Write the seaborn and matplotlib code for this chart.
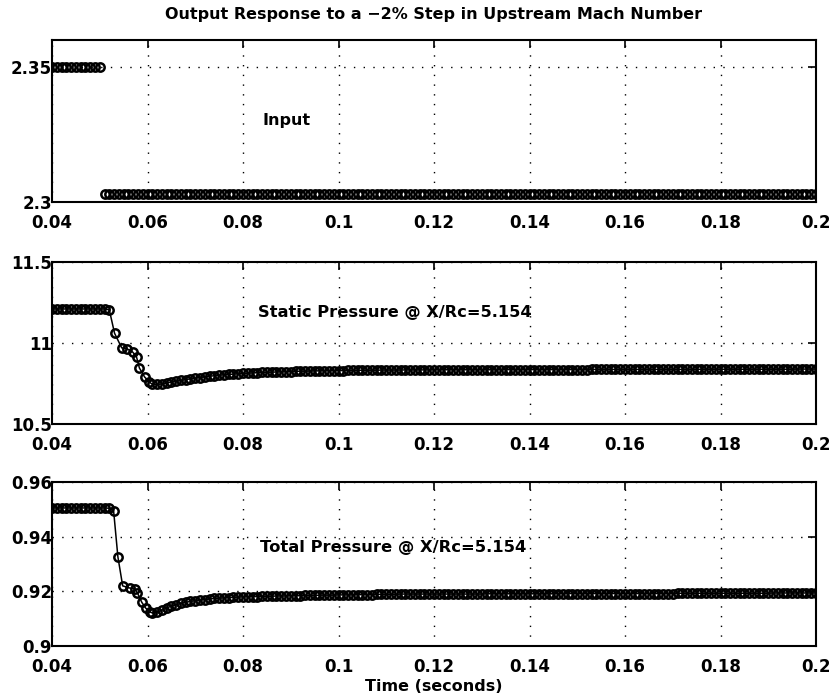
import numpy as np
import pandas as pd
import matplotlib
matplotlib.use("Agg")
import matplotlib.pyplot as plt
import seaborn as sns

sns.set_theme(style="white")
plt.rcParams["font.family"] = ["DejaVu Sans"]
plt.rcParams["text.color"] = "black"
plt.rcParams["axes.labelcolor"] = "black"

# ---------------- data ----------------
# upstream Mach number input (sampled every 1 ms)
t_input = np.round(np.arange(0.040, 0.2005, 0.001), 3)
mach_before = [2.35] * 11          # 0.040 .. 0.050
mach_after = [2.303] * 150         # 0.051 .. 0.200

# static pressure, pre-step plateau and transient (solver output points)
t_static_head = [0.040, 0.041, 0.042, 0.043, 0.044, 0.045, 0.046, 0.047, 0.048,
                 0.049, 0.050, 0.051, 0.052,
                 0.0531, 0.0546, 0.0558, 0.0569, 0.0577, 0.0583, 0.0594, 0.0604]
p_static_head = [11.21, 11.21, 11.21, 11.21, 11.21, 11.21, 11.21, 11.21, 11.21,
                 11.21, 11.21, 11.21, 11.205,
                 11.06, 10.97, 10.963, 10.944, 10.914, 10.846, 10.79, 10.759]

# total pressure, pre-step plateau and transient
t_total_head = [0.040, 0.041, 0.042, 0.043, 0.044, 0.045, 0.046, 0.047, 0.048,
                0.049, 0.050, 0.051, 0.052,
                0.0529, 0.0538, 0.0548, 0.0563, 0.0573, 0.0579, 0.0588, 0.0596, 0.0606]
p_total_head = [0.9505, 0.9505, 0.9505, 0.9505, 0.9505, 0.9505, 0.9505, 0.9505, 0.9505,
                0.9505, 0.9505, 0.9505, 0.9504,
                0.9495, 0.9326, 0.922, 0.9212, 0.9209, 0.9194, 0.916, 0.9139, 0.9124]

# recovery phase, 1 ms samples from 0.061 s to 0.200 s
t_tail = np.round(np.arange(0.061, 0.2005, 0.001), 3)

p_static_tail = [
    10.745, 10.744, 10.747, 10.753, 10.759, 10.764, 10.769, 10.774, 10.779, 10.783,
    10.787, 10.791, 10.795, 10.798, 10.801, 10.804, 10.806, 10.808, 10.810, 10.812,
    10.814, 10.815, 10.817, 10.818, 10.819, 10.820, 10.821, 10.822, 10.823, 10.824,
    10.825, 10.826, 10.826, 10.827, 10.828, 10.828, 10.829, 10.829, 10.830, 10.830,
    10.830, 10.831, 10.831, 10.831, 10.832, 10.832, 10.832, 10.832, 10.833, 10.833,
    10.833, 10.833, 10.833, 10.834, 10.834, 10.834, 10.834, 10.834, 10.834, 10.835,
    10.835, 10.835, 10.835, 10.835, 10.835, 10.835, 10.835, 10.835, 10.835, 10.835,
    10.835, 10.835, 10.835, 10.836, 10.836, 10.836, 10.836, 10.836, 10.836, 10.836,
    10.836, 10.836, 10.836, 10.836, 10.836, 10.836, 10.836, 10.836, 10.836, 10.836,
    10.836, 10.836, 10.837, 10.837, 10.837, 10.837, 10.837, 10.837, 10.837, 10.837,
    10.837, 10.837, 10.837, 10.837, 10.837, 10.837, 10.837, 10.837, 10.837, 10.837,
    10.837, 10.837, 10.837, 10.837, 10.837, 10.838, 10.838, 10.838, 10.838, 10.838,
    10.838, 10.838, 10.838, 10.838, 10.838, 10.838, 10.838, 10.838, 10.838, 10.838,
    10.838, 10.838, 10.838, 10.838, 10.838, 10.839, 10.839, 10.839, 10.839, 10.839,
]

p_total_tail = [
    0.9121, 0.9124, 0.9131, 0.9139, 0.9146, 0.9151, 0.9156, 0.9160, 0.9163, 0.9166,
    0.9168, 0.9170, 0.9172, 0.9174, 0.9175, 0.9176, 0.9177, 0.9178, 0.9179, 0.9180,
    0.9180, 0.9181, 0.9181, 0.9182, 0.9182, 0.9182, 0.9183, 0.9183, 0.9183, 0.9184,
    0.9184, 0.9184, 0.9185, 0.9185, 0.9185, 0.9186, 0.9186, 0.9186, 0.9186, 0.9187,
    0.9187, 0.9187, 0.9187, 0.9188, 0.9188, 0.9188, 0.9188, 0.9189, 0.9189, 0.9189,
    0.9189, 0.9189, 0.9190, 0.9190, 0.9190, 0.9190, 0.9190, 0.9190, 0.9190, 0.9190,
    0.9190, 0.9190, 0.9190, 0.9190, 0.9190, 0.9190, 0.9190, 0.9190, 0.9190, 0.9190,
    0.9191, 0.9191, 0.9191, 0.9191, 0.9191, 0.9191, 0.9191, 0.9191, 0.9191, 0.9191,
    0.9191, 0.9191, 0.9191, 0.9191, 0.9191, 0.9192, 0.9192, 0.9192, 0.9192, 0.9192,
    0.9192, 0.9192, 0.9192, 0.9192, 0.9192, 0.9192, 0.9192, 0.9192, 0.9192, 0.9192,
    0.9192, 0.9192, 0.9192, 0.9192, 0.9192, 0.9192, 0.9192, 0.9192, 0.9192, 0.9192,
    0.9193, 0.9193, 0.9193, 0.9193, 0.9193, 0.9193, 0.9193, 0.9193, 0.9193, 0.9193,
    0.9193, 0.9193, 0.9193, 0.9193, 0.9193, 0.9193, 0.9193, 0.9193, 0.9193, 0.9193,
    0.9194, 0.9194, 0.9194, 0.9194, 0.9194, 0.9194, 0.9194, 0.9194, 0.9194, 0.9194,
]

x_ticks = [0.04, 0.06, 0.08, 0.1, 0.12, 0.14, 0.16, 0.18, 0.2]
x_tick_labels = ["0.04", "0.06", "0.08", "0.1", "0.12", "0.14", "0.16", "0.18", "0.2"]
input_yticks = [2.3, 2.35]
input_ytick_labels = ["2.3", "2.35"]
static_yticks = [10.5, 11, 11.5]
static_ytick_labels = ["10.5", "11", "11.5"]
total_yticks = [0.9, 0.92, 0.94, 0.96]
total_ytick_labels = ["0.9", "0.92", "0.94", "0.96"]

title = "Output Response to a \u22122% Step in Upstream Mach Number"

# ---------------- tables ----------------
df_input = pd.DataFrame({"t": t_input, "v": mach_before + mach_after})
df_static = pd.DataFrame({"t": list(t_static_head) + list(t_tail),
                          "v": p_static_head + p_static_tail})
df_total = pd.DataFrame({"t": list(t_total_head) + list(t_tail),
                         "v": p_total_head + p_total_tail})

# ---------------- figure ----------------
W, H = 832, 699
fig = plt.figure(figsize=(W / 100, H / 100), dpi=100)
fig.patch.set_facecolor("white")


def box(left, top, right, bottom):
    return [left / W, 1 - bottom / H, (right - left) / W, (bottom - top) / H]


ax_in = fig.add_axes(box(52, 40, 816, 202))
ax_st = fig.add_axes(box(52, 262, 816, 424))
ax_tp = fig.add_axes(box(52, 482, 816, 646))

mk = dict(marker="o", markersize=6.0, markerfacecolor="none",
          markeredgecolor="black", markeredgewidth=1.8, color="black")

sns.lineplot(data=df_input, x="t", y="v", ax=ax_in, estimator=None, sort=False,
             linestyle="none", **mk)
sns.lineplot(data=df_static, x="t", y="v", ax=ax_st, estimator=None, sort=False,
             linewidth=1.1, **mk)
sns.lineplot(data=df_total, x="t", y="v", ax=ax_tp, estimator=None, sort=False,
             linewidth=1.1, **mk)

TXT = dict(fontsize=11.5, fontweight="bold", color="black")

panels = [
    (ax_in, (2.3, 2.36), input_yticks, input_ytick_labels),
    (ax_st, (10.5, 11.5), static_yticks, static_ytick_labels),
    (ax_tp, (0.9, 0.96), total_yticks, total_ytick_labels),
]
for ax, ylim, yt, ytl in panels:
    ax.set_xlim(0.04, 0.2)
    ax.set_ylim(*ylim)
    ax.set_xticks(x_ticks)
    ax.set_xticklabels(x_tick_labels)
    ax.set_yticks(yt)
    ax.set_yticklabels(ytl)
    ax.set_xlabel("")
    ax.set_ylabel("")
    ax.set_facecolor("white")
    ax.grid(True, color="black", linestyle=(0, (1, 6)), linewidth=1.0)
    ax.tick_params(direction="in", length=6, width=1.2, top=True, right=True,
                   labelsize=12, colors="black")
    ax.tick_params(axis="y", pad=0)
    ax.tick_params(axis="x", pad=9)
    for s in ax.spines.values():
        s.set_visible(True)
        s.set_color("black")
        s.set_linewidth(1.5)
    for lbl in ax.get_xticklabels() + ax.get_yticklabels():
        lbl.set_fontweight("bold")

ax_in.text(0.276, 0.50, "Input", transform=ax_in.transAxes,
           va="center", ha="left", **TXT)
ax_st.text(0.270, 0.69, "Static Pressure @ X/Rc=5.154", transform=ax_st.transAxes,
           va="center", ha="left", fontsize=11.7, fontweight="bold", color="black")
ax_tp.text(0.272, 0.60, "Total Pressure @ X/Rc=5.154", transform=ax_tp.transAxes,
           va="center", ha="left", fontsize=11.8, fontweight="bold", color="black")

ax_in.set_title(title, pad=15, **TXT)
ax_tp.set_xlabel("Time (seconds)", labelpad=2, **TXT)

fig.savefig("out.png", dpi=100, facecolor="white")
